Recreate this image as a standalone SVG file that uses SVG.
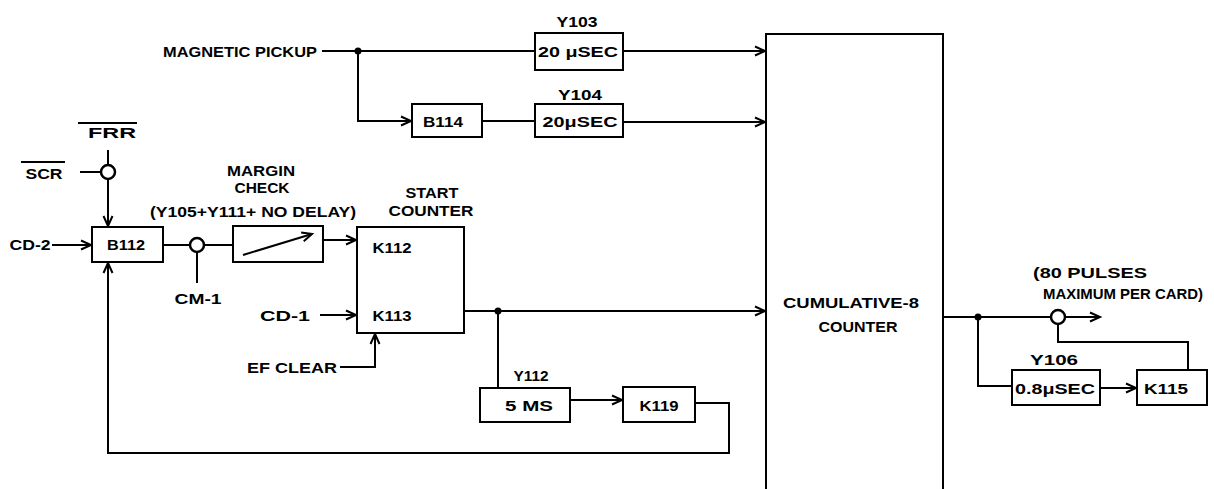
<svg xmlns="http://www.w3.org/2000/svg" width="1214" height="489" viewBox="0 0 1214 489">
<style>
.b{fill:#fff;stroke:#000;stroke-width:2}
.c{fill:none;stroke:#000;stroke-width:2}
.t{font-family:"Liberation Sans",Arial,sans-serif;font-size:15.5px;font-weight:bold;fill:#000;text-anchor:middle}
.o{fill:#fff;stroke:#000;stroke-width:2.5}
</style>
<defs>
<marker id="a" markerUnits="userSpaceOnUse" markerWidth="14" markerHeight="14" refX="11" refY="6" orient="auto">
<path d="M1,1.5 L11,6 L1,10.5" fill="none" stroke="#000" stroke-width="2"/>
</marker>
</defs>
<g id="connectors">
<path class="c" d="M322,51 H535"/>
<path class="c" d="M358,51 V121 H411" marker-end="url(#a)"/>
<path class="c" d="M482,121 H535"/>
<path class="c" d="M623,51 H765" stroke-width="3" marker-end="url(#a)"/>
<path class="c" d="M623,122 H765" marker-end="url(#a)"/>
<path class="c" d="M80,172 H101"/>
<path class="c" d="M108,150 V165"/>
<path class="c" d="M108,179 V226" marker-end="url(#a)"/>
<path class="c" d="M52,245 H91" marker-end="url(#a)"/>
<path class="c" d="M163,245 H190"/>
<path class="c" d="M204,245 H233"/>
<path class="c" d="M197,252 V283"/>
<path class="c" d="M323,240 H356" marker-end="url(#a)"/>
<path class="c" d="M320,315 H356" marker-end="url(#a)"/>
<path class="c" d="M340,367 H375 V334" marker-end="url(#a)"/>
<path class="c" d="M464,311 H765" marker-end="url(#a)"/>
<path class="c" d="M498,311 V388"/>
<path class="c" d="M570,400 H622" marker-end="url(#a)"/>
<path class="c" d="M695,403 H729 V453 H108 V263" stroke-width="2.5" marker-end="url(#a)"/>
<path class="c" d="M943,317 H1051"/>
<path class="c" d="M1065,317 H1100" marker-end="url(#a)"/>
<path class="c" d="M978,317 V386 H1012"/>
<path class="c" d="M1100,388 H1136" marker-end="url(#a)"/>
<path class="c" d="M1188,370 V342 H1058 V324"/>
<circle cx="358" cy="51" r="3.5"/>
<circle cx="498" cy="311" r="3.5"/>
<circle cx="978" cy="317" r="3.5"/>
</g>
<g id="magnetic-pickup"><text class="t" x="240" y="56.5" textLength="154" lengthAdjust="spacingAndGlyphs">MAGNETIC PICKUP</text></g>
<g id="y103"><rect class="b" x="535" y="33" width="88" height="37"/><text class="t" x="577" y="27" textLength="41" lengthAdjust="spacingAndGlyphs">Y103</text><text class="t" x="578" y="57" textLength="80" lengthAdjust="spacingAndGlyphs">20 μSEC</text></g>
<g id="b114"><rect class="b" x="412" y="104" width="70" height="33"/><text class="t" x="443" y="127" textLength="40" lengthAdjust="spacingAndGlyphs">B114</text></g>
<g id="y104"><rect class="b" x="535" y="104" width="88" height="33"/><text class="t" x="580" y="100" textLength="44" lengthAdjust="spacingAndGlyphs">Y104</text><text class="t" x="580" y="127" textLength="75" lengthAdjust="spacingAndGlyphs">20μSEC</text></g>
<g id="frr"><text class="t" x="112" y="138" textLength="48" lengthAdjust="spacingAndGlyphs">FRR</text><path class="c" d="M78,123 H137"/></g>
<g id="scr"><text class="t" x="44" y="179" textLength="37" lengthAdjust="spacingAndGlyphs">SCR</text><path class="c" d="M21,162 H65"/></g>
<g id="gate-top"><circle class="o" cx="108" cy="172" r="7"/></g>
<g id="cd2"><text class="t" x="30" y="250" textLength="41" lengthAdjust="spacingAndGlyphs">CD-2</text></g>
<g id="b112"><rect class="b" x="92" y="227" width="71" height="35"/><text class="t" x="126" y="250" textLength="38" lengthAdjust="spacingAndGlyphs">B112</text></g>
<g id="cm1-gate"><circle class="o" cx="197" cy="245" r="7"/><text class="t" x="198" y="304" textLength="47" lengthAdjust="spacingAndGlyphs">CM-1</text></g>
<g id="margin-check"><text class="t" x="261" y="176" textLength="68" lengthAdjust="spacingAndGlyphs">MARGIN</text><text class="t" x="262" y="193" textLength="55" lengthAdjust="spacingAndGlyphs">CHECK</text><text class="t" x="253" y="217" textLength="206" lengthAdjust="spacingAndGlyphs">(Y105+Y111+ NO DELAY)</text><rect class="b" x="233" y="226" width="90" height="36"/><path class="c" d="M243,255 L312,234" marker-end="url(#a)"/></g>
<g id="start-counter"><text class="t" x="432" y="198" textLength="53" lengthAdjust="spacingAndGlyphs">START</text><text class="t" x="431" y="216" textLength="85" lengthAdjust="spacingAndGlyphs">COUNTER</text><rect class="b" x="357" y="227" width="107" height="106"/><text class="t" x="392" y="253" textLength="39" lengthAdjust="spacingAndGlyphs">K112</text><text class="t" x="392" y="321" textLength="39" lengthAdjust="spacingAndGlyphs">K113</text></g>
<g id="cd1"><text class="t" x="285" y="321" textLength="50" lengthAdjust="spacingAndGlyphs">CD-1</text></g>
<g id="ef-clear"><text class="t" x="292" y="373" textLength="90" lengthAdjust="spacingAndGlyphs">EF CLEAR</text></g>
<g id="y112"><text class="t" x="531" y="381" textLength="35" lengthAdjust="spacingAndGlyphs">Y112</text><rect class="b" x="480" y="388" width="90" height="34"/><text class="t" x="529" y="411" textLength="48" lengthAdjust="spacingAndGlyphs">5 MS</text></g>
<g id="k119"><rect class="b" x="623" y="387" width="72" height="35"/><text class="t" x="659" y="411" textLength="39" lengthAdjust="spacingAndGlyphs">K119</text></g>
<g id="cumulative-counter"><path class="b" d="M766,489 V34 H943 V489"/><text class="t" x="851" y="308" textLength="136" lengthAdjust="spacingAndGlyphs">CUMULATIVE-8</text><text class="t" x="858" y="332" textLength="79" lengthAdjust="spacingAndGlyphs">COUNTER</text></g>
<g id="out-gate"><circle class="o" cx="1058" cy="317" r="7"/><text class="t" x="1090" y="278" textLength="114" lengthAdjust="spacingAndGlyphs">(80 PULSES</text><text class="t" x="1123" y="299" textLength="160" lengthAdjust="spacingAndGlyphs">MAXIMUM PER CARD)</text></g>
<g id="y106"><text class="t" x="1054" y="365" textLength="48" lengthAdjust="spacingAndGlyphs">Y106</text><rect class="b" x="1012" y="370" width="88" height="35"/><text class="t" x="1055" y="394" textLength="80" lengthAdjust="spacingAndGlyphs">0.8μSEC</text></g>
<g id="k115"><rect class="b" x="1137" y="370" width="70" height="35"/><text class="t" x="1166" y="394" textLength="44" lengthAdjust="spacingAndGlyphs">K115</text></g>
</svg>
